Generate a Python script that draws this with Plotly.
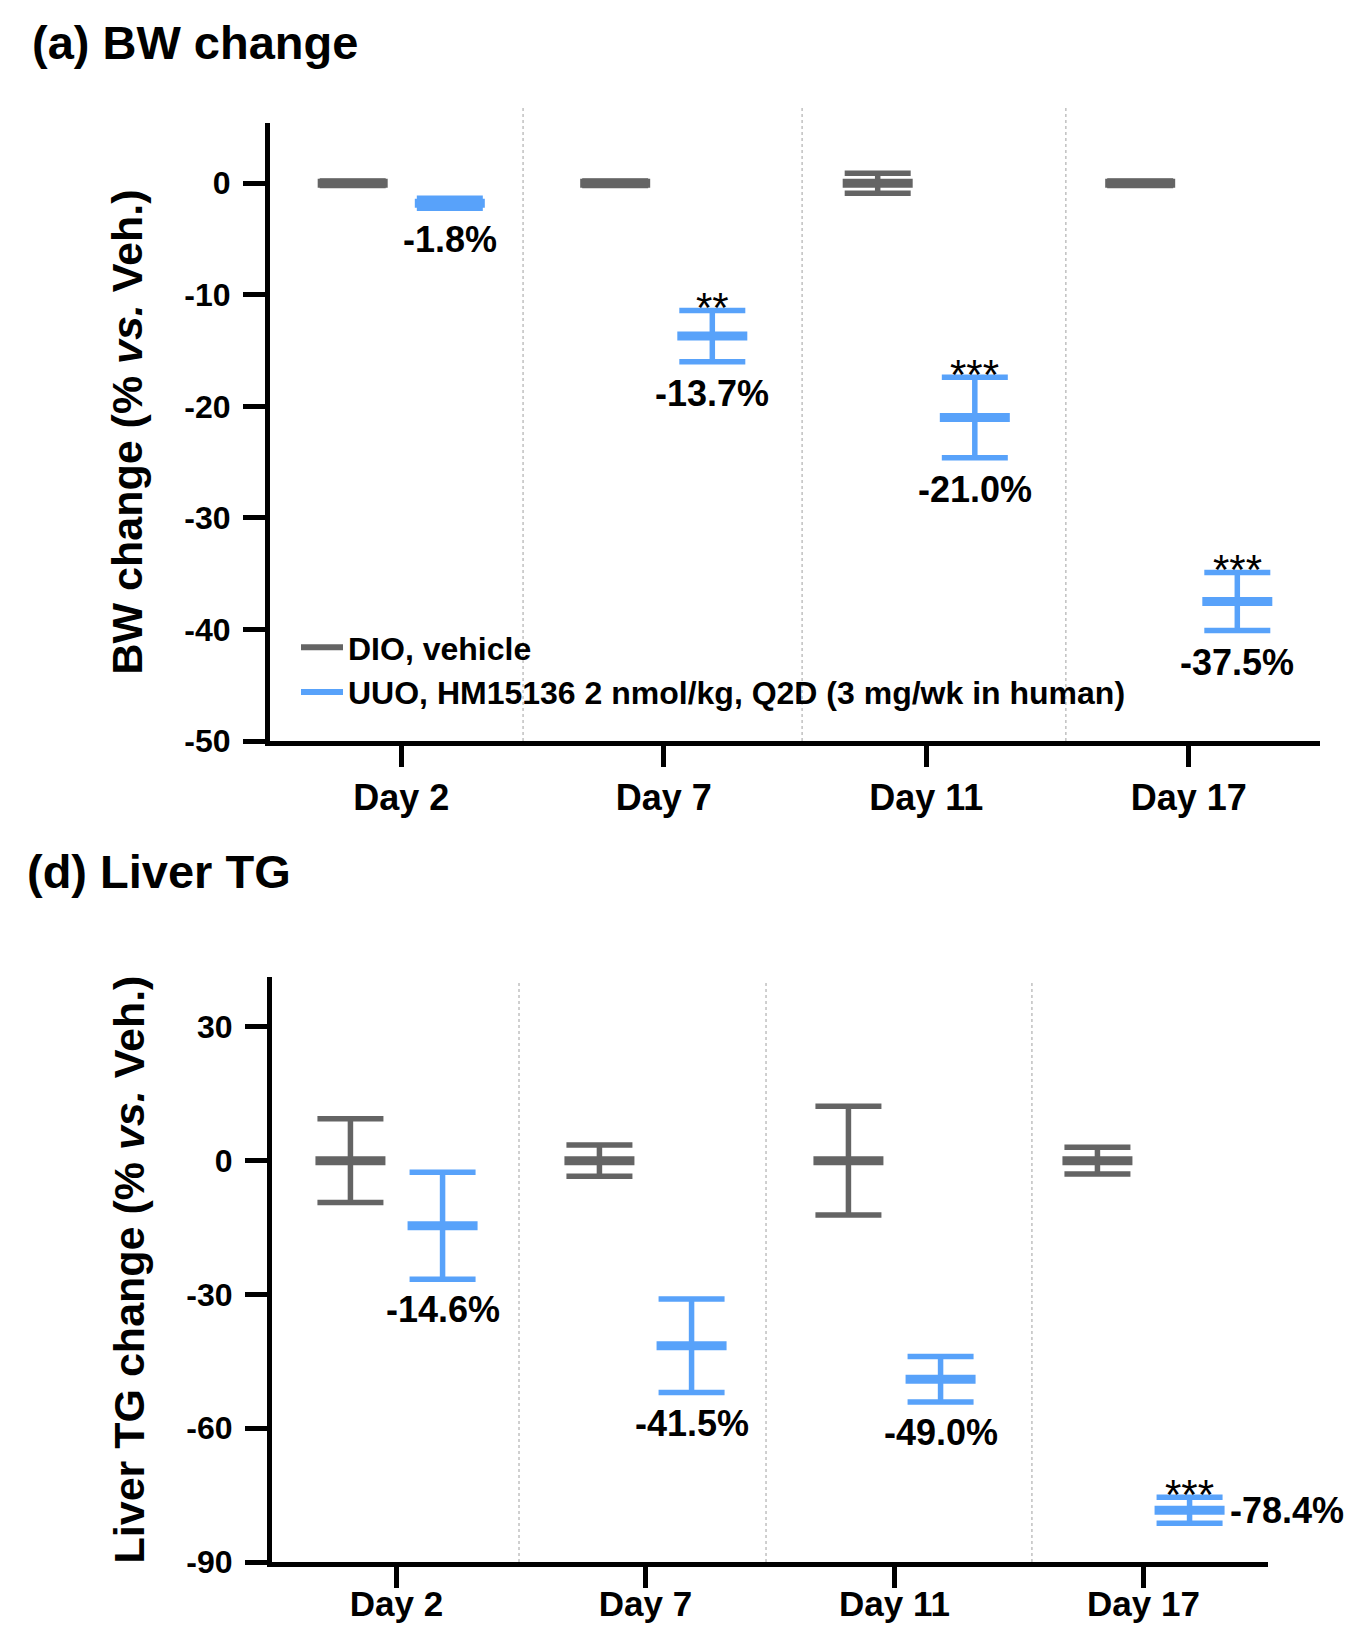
import plotly.graph_objects as go

# ---------------- data ----------------
days = ["Day 2", "Day 7", "Day 11", "Day 17"]
group_names = ["DIO, vehicle", "UUO, HM15136 2 nmol/kg, Q2D (3 mg/wk in human)"]

bw_dio_mean = [0.0, 0.0, 0.0, 0.0]
bw_dio_err = [0.2, 0.2, 0.9, 0.2]
bw_uuo_mean = [-1.8, -13.7, -21.0, -37.5]
bw_uuo_err = [0.45, 2.3, 3.6, 2.6]
bw_stars = ["", "**", "***", "***"]
bw_yticks = [0, -10, -20, -30, -40, -50]
bw_ytick_text = ["0", "-10", "-20", "-30", "-40", "-50"]

tg_dio_mean = [0.0, 0.0, 0.0, 0.0]
tg_dio_err = [9.4, 3.5, 12.2, 3.0]
tg_uuo_mean = [-14.6, -41.5, -49.0, -78.4]
tg_uuo_err = [12.0, 10.5, 5.1, 2.9]
tg_stars = ["", "", "", "***"]
tg_label_side = ["below", "below", "below", "right"]
tg_yticks = [30, 0, -30, -60, -90]
tg_ytick_text = ["30", "0", "-30", "-60", "-90"]

bw_separators = [0.464, 1.527, 2.532]
tg_separators = [0.492, 1.484, 2.552]

# ---------------- style ----------------
W, H = 1348, 1630
FONT = "Liberation Sans, Arial, Helvetica, sans-serif"
GRAY = "#646464"
BLUE = "#58a2fa"
OFF = 0.185
colors = [GRAY, BLUE]


def py(px):
    return 1 - px / H


def px_x(px):
    return px / W


top_dom_x = [px_x(270), px_x(1320)]
top_dom_y = [py(741), py(123)]
bot_dom_x = [px_x(272), px_x(1268)]
bot_dom_y = [py(1562), py(977)]

fig = go.Figure()

panels = [
    ("x", "y", [bw_dio_mean, bw_uuo_mean], [bw_dio_err, bw_uuo_err]),
    ("x2", "y2", [tg_dio_mean, tg_uuo_mean], [tg_dio_err, tg_uuo_err]),
]
for xa, ya, means, errs in panels:
    for g in range(2):
        xs = [i + (OFF if g == 1 else -OFF) for i in range(len(days))]
        fig.add_trace(go.Scatter(
            x=xs, y=means[g], mode="markers", xaxis=xa, yaxis=ya,
            showlegend=False, name=group_names[g],
            marker=dict(symbol="line-ew", size=50,
                        line=dict(width=9, color=colors[g]), color=colors[g]),
            error_y=dict(type="data", array=errs[g], visible=True,
                         color=colors[g], thickness=5.5, width=33),
            cliponaxis=False,
        ))

# legend entries
for g in range(2):
    fig.add_trace(go.Scatter(
        x=[None], y=[None], mode="lines", xaxis="x", yaxis="y",
        name=group_names[g], showlegend=True,
        line=dict(color=colors[g], width=6),
    ))

annotations = []
title_font = dict(family=FONT, size=47, color="black", weight="bold")
annotations.append(dict(text="(a) BW change", xref="paper", yref="paper",
                        x=px_x(30), y=py(43), xanchor="left", yanchor="middle",
                        showarrow=False, font=title_font))
annotations.append(dict(text="(d) Liver TG", xref="paper", yref="paper",
                        x=px_x(25), y=py(871), xanchor="left", yanchor="middle",
                        showarrow=False, font=title_font))

lab_font = dict(family=FONT, size=36, color="black", weight="bold")
star_font = dict(family=FONT, size=42, color="black")

# percent labels + stars, top panel
for i in range(len(days)):
    xb = i + OFF
    annotations.append(dict(text="%.1f%%" % bw_uuo_mean[i], xref="x", yref="y",
                            x=xb, y=bw_uuo_mean[i] - bw_uuo_err[i],
                            xanchor="center", yanchor="top", yshift=-9,
                            showarrow=False, font=lab_font))
    if bw_stars[i]:
        annotations.append(dict(text=bw_stars[i], xref="x", yref="y",
                                x=xb, y=bw_uuo_mean[i] + bw_uuo_err[i],
                                xanchor="center", yanchor="middle", yshift=3,
                                showarrow=False, font=star_font))
# bottom panel
for i in range(len(days)):
    xb = i + OFF
    if tg_label_side[i] == "below":
        annotations.append(dict(text="%.1f%%" % tg_uuo_mean[i], xref="x2", yref="y2",
                                x=xb, y=tg_uuo_mean[i] - tg_uuo_err[i],
                                xanchor="center", yanchor="top", yshift=-8,
                                showarrow=False, font=lab_font))
    else:
        annotations.append(dict(text="%.1f%%" % tg_uuo_mean[i], xref="x2", yref="y2",
                                x=xb, y=tg_uuo_mean[i],
                                xanchor="left", yanchor="middle", xshift=38,
                                showarrow=False, font=lab_font))
    if tg_stars[i]:
        annotations.append(dict(text=tg_stars[i], xref="x2", yref="y2",
                                x=xb, y=tg_uuo_mean[i] + tg_uuo_err[i],
                                xanchor="center", yanchor="middle", yshift=3,
                                showarrow=False, font=star_font))

shapes = []
for s in bw_separators:
    shapes.append(dict(type="line", xref="x", yref="paper", x0=s, x1=s,
                       y0=top_dom_y[0], y1=py(107),
                       line=dict(color="#a0a0a0", width=1, dash="dot"), layer="below"))
for s in tg_separators:
    shapes.append(dict(type="line", xref="x2", yref="paper", x0=s, x1=s,
                       y0=bot_dom_y[0], y1=py(980),
                       line=dict(color="#a0a0a0", width=1, dash="dot"), layer="below"))

tick_x_font = dict(family=FONT, size=36, color="black", weight="bold")
tick_x2_font = dict(family=FONT, size=35, color="black", weight="bold")
tick_y_font = dict(family=FONT, size=32, color="black", weight="bold")
ytitle_font = dict(family=FONT, size=43, color="black", weight="bold")

common_x = dict(range=[-0.5, 3.5], tickvals=list(range(len(days))), ticktext=days,
                ticks="outside", ticklen=21, tickwidth=5, tickcolor="black",
                showline=True, linewidth=5, linecolor="black",
                showgrid=False, zeroline=False,
                fixedrange=True, automargin=False)
common_y = dict(ticks="outside", ticklen=22, tickwidth=5, tickcolor="black",
                showline=True, linewidth=5, linecolor="black",
                showgrid=False, zeroline=False, tickfont=tick_y_font,
                ticklabelstandoff=6, fixedrange=True, automargin=False)

fig.update_layout(
    width=W, height=H, margin=dict(l=0, r=0, t=0, b=0, autoexpand=False),
    paper_bgcolor="white", plot_bgcolor="white",
    font=dict(family=FONT, color="black"),
    xaxis=dict(domain=top_dom_x, anchor="y", ticklabelstandoff=0,
               tickfont=tick_x_font, **common_x),
    yaxis=dict(domain=top_dom_y, anchor="x", range=[-50, 5.4], tickvals=bw_yticks,
               ticktext=bw_ytick_text,
               title=dict(text="BW change (% <i>vs.</i> Veh.)", font=ytitle_font, standoff=30),
               **common_y),
    xaxis2=dict(domain=bot_dom_x, anchor="y2", ticklabelstandoff=-14,
                tickfont=tick_x2_font, **common_x),
    yaxis2=dict(domain=bot_dom_y, anchor="x2", range=[-90, 41.2], tickvals=tg_yticks,
                ticktext=tg_ytick_text,
                title=dict(text="Liver TG change (% <i>vs.</i> Veh.)", font=ytitle_font, standoff=30),
                **common_y),
    legend=dict(x=px_x(296), y=py(620), xanchor="left", yanchor="top",
                bgcolor="rgba(0,0,0,0)", traceorder="normal",
                itemwidth=42,
                font=dict(family=FONT, size=32, color="black", weight="bold")),
    annotations=annotations,
    shapes=shapes,
)

fig.write_html(
    "out.html",
    config={"displayModeBar": False},
    post_script="document.body.style.margin='0px';",
)
